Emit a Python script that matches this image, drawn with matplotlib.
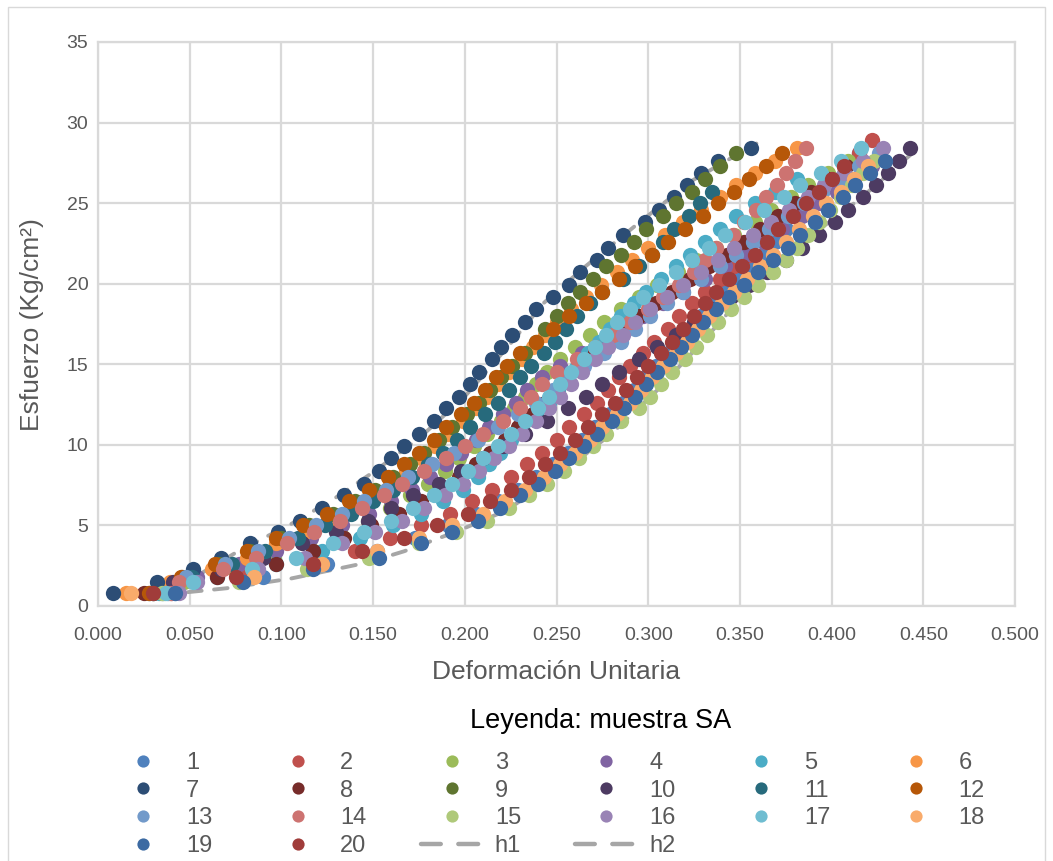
import matplotlib.pyplot as plt
from matplotlib.lines import Line2D
from matplotlib.patches import Rectangle

plt.rcParams['font.family'] = ['Liberation Sans', 'DejaVu Sans']

# esfuerzo (Kg/cm2) para cada lectura, dos escalas de carga
esf_a = [0.8, 1.5, 2.3, 3.0, 3.9, 4.6, 5.3, 6.1, 6.9, 7.6, 8.4, 9.2, 9.9, 10.7, 11.5, 12.3,
         13.0, 13.8, 14.5, 15.3, 16.1, 16.8, 17.6, 18.4, 19.2, 19.9, 20.7, 21.5, 22.2,
         23.0, 23.8, 24.6, 25.4, 26.1, 26.9, 27.6, 28.4]
esf_b = [0.8, 1.8, 2.6, 3.4, 4.2, 5.0, 5.7, 6.5, 7.2, 8.0, 8.8, 9.5, 10.3, 11.1, 11.9, 12.6,
         13.4, 14.2, 14.9, 15.7, 16.4, 17.2, 18.0, 18.8, 19.5, 20.3, 21.1, 21.8, 22.6,
         23.4, 24.2, 25.0, 25.7, 26.5, 27.3, 28.1, 28.9]

# deformacion unitaria de cada muestra
def1 = [0.028, 0.090, 0.125, 0.152, 0.173, 0.191, 0.206, 0.218, 0.229, 0.239, 0.248, 0.256,
        0.264, 0.271, 0.279, 0.286, 0.292, 0.298, 0.304, 0.311, 0.317, 0.323, 0.329, 0.335,
        0.341, 0.348, 0.355, 0.362, 0.369, 0.375, 0.382, 0.388, 0.395, 0.401, 0.408, 0.415]
def2 = [0.040, 0.080, 0.115, 0.140, 0.159, 0.176, 0.192, 0.204, 0.215, 0.225, 0.234, 0.242,
        0.250, 0.257, 0.265, 0.272, 0.278, 0.284, 0.290, 0.297, 0.303, 0.311, 0.317, 0.324,
        0.331, 0.339, 0.347, 0.355, 0.363, 0.370, 0.378, 0.385, 0.393, 0.399, 0.407, 0.415, 0.422]
def3 = [0.036, 0.047, 0.074, 0.096, 0.115, 0.132, 0.147, 0.159, 0.170, 0.180, 0.189, 0.197,
        0.205, 0.212, 0.220, 0.227, 0.233, 0.239, 0.245, 0.252, 0.260, 0.268, 0.276, 0.285,
        0.295, 0.305, 0.316, 0.326, 0.337, 0.347, 0.358, 0.367, 0.378, 0.387, 0.398, 0.409]
def4 = [0.038, 0.054, 0.077, 0.097, 0.116, 0.133, 0.148, 0.160, 0.171, 0.181, 0.190, 0.198,
        0.206, 0.213, 0.221, 0.228, 0.234, 0.242, 0.252, 0.264, 0.275, 0.286, 0.297, 0.308,
        0.319, 0.331, 0.342, 0.353, 0.363, 0.373, 0.384, 0.393, 0.403, 0.412, 0.422]
def5 = [0.033, 0.065, 0.097, 0.122, 0.143, 0.161, 0.176, 0.188, 0.199, 0.207, 0.213, 0.219,
        0.225, 0.231, 0.239, 0.246, 0.251, 0.256, 0.261, 0.267, 0.273, 0.279, 0.285, 0.292,
        0.299, 0.307, 0.315, 0.323, 0.331, 0.339, 0.348, 0.358, 0.369, 0.381]
def6 = [0.015, 0.039, 0.062, 0.081, 0.097, 0.113, 0.126, 0.138, 0.149, 0.159, 0.168, 0.176,
        0.184, 0.191, 0.199, 0.206, 0.212, 0.218, 0.224, 0.231, 0.237, 0.244, 0.250, 0.258,
        0.266, 0.274, 0.283, 0.291, 0.300, 0.309, 0.319, 0.329, 0.339, 0.348, 0.358, 0.369, 0.381]
def7 = [0.008, 0.032, 0.052, 0.067, 0.083, 0.098, 0.110, 0.122, 0.134, 0.145, 0.153, 0.160,
        0.167, 0.175, 0.183, 0.190, 0.197, 0.203, 0.208, 0.215, 0.220, 0.226, 0.233, 0.239,
        0.248, 0.257, 0.263, 0.272, 0.278, 0.286, 0.298, 0.306, 0.314, 0.321, 0.329, 0.338, 0.356]
def8 = [0.025, 0.065, 0.097, 0.117, 0.134, 0.149, 0.164, 0.176, 0.187, 0.197, 0.206, 0.214,
        0.222, 0.229, 0.237, 0.244, 0.250, 0.256, 0.262, 0.271, 0.279, 0.287, 0.295, 0.304,
        0.313, 0.323, 0.333, 0.343, 0.352, 0.361, 0.371, 0.380, 0.389, 0.398, 0.408]
def9 = [0.030, 0.046, 0.066, 0.083, 0.100, 0.115, 0.128, 0.140, 0.151, 0.161, 0.170, 0.178,
        0.186, 0.193, 0.201, 0.208, 0.214, 0.220, 0.226, 0.233, 0.239, 0.244, 0.250, 0.256,
        0.263, 0.270, 0.277, 0.285, 0.292, 0.299, 0.308, 0.315, 0.324, 0.331, 0.339, 0.348]
def10 = [0.030, 0.041, 0.067, 0.090, 0.111, 0.130, 0.147, 0.160, 0.172, 0.186, 0.198, 0.210,
         0.221, 0.233, 0.245, 0.256, 0.266, 0.275, 0.284, 0.295, 0.305, 0.315, 0.325, 0.335,
         0.345, 0.355, 0.365, 0.375, 0.384, 0.393, 0.402, 0.409, 0.417, 0.424, 0.431, 0.437, 0.443]
def11 = [0.035, 0.051, 0.073, 0.091, 0.109, 0.124, 0.138, 0.150, 0.161, 0.171, 0.180, 0.188,
         0.196, 0.203, 0.211, 0.218, 0.224, 0.230, 0.236, 0.243, 0.249, 0.255, 0.261, 0.268,
         0.275, 0.286, 0.295, 0.302, 0.308, 0.314, 0.322, 0.328, 0.335]
def12 = [0.028, 0.045, 0.064, 0.081, 0.097, 0.112, 0.125, 0.137, 0.148, 0.158, 0.167, 0.175,
         0.183, 0.190, 0.198, 0.205, 0.211, 0.217, 0.223, 0.230, 0.239, 0.248, 0.257, 0.266,
         0.275, 0.284, 0.293, 0.302, 0.311, 0.320, 0.330, 0.338, 0.347, 0.355, 0.364, 0.373]
def13 = [0.042, 0.048, 0.069, 0.087, 0.104, 0.119, 0.133, 0.145, 0.157, 0.169, 0.182, 0.194,
         0.207, 0.218, 0.229, 0.239, 0.248, 0.256, 0.265, 0.276, 0.285, 0.293, 0.301, 0.310,
         0.319, 0.329, 0.339, 0.348, 0.357, 0.366, 0.376, 0.385, 0.395, 0.405, 0.415, 0.426]
def14 = [0.040, 0.044, 0.068, 0.086, 0.103, 0.118, 0.132, 0.144, 0.156, 0.166, 0.178, 0.190,
         0.200, 0.210, 0.221, 0.230, 0.236, 0.242, 0.250, 0.261, 0.271, 0.281, 0.290, 0.300,
         0.308, 0.317, 0.325, 0.331, 0.337, 0.346, 0.352, 0.359, 0.364, 0.370, 0.375, 0.380, 0.386]
def15 = [0.035, 0.077, 0.114, 0.148, 0.175, 0.195, 0.212, 0.224, 0.235, 0.245, 0.254, 0.262,
         0.270, 0.277, 0.285, 0.295, 0.301, 0.307, 0.313, 0.320, 0.326, 0.332, 0.338, 0.345,
         0.352, 0.360, 0.368, 0.375, 0.381, 0.387, 0.393, 0.399, 0.405, 0.411, 0.417, 0.423]
def16 = [0.044, 0.054, 0.087, 0.113, 0.133, 0.151, 0.166, 0.178, 0.189, 0.199, 0.208, 0.216,
         0.224, 0.231, 0.239, 0.246, 0.252, 0.258, 0.264, 0.271, 0.278, 0.286, 0.293, 0.301,
         0.310, 0.319, 0.329, 0.338, 0.347, 0.357, 0.367, 0.377, 0.387, 0.396, 0.407, 0.417, 0.428]
def17 = [0.037, 0.052, 0.084, 0.108, 0.128, 0.145, 0.160, 0.172, 0.183, 0.193, 0.202, 0.210,
         0.218, 0.225, 0.233, 0.240, 0.246, 0.252, 0.258, 0.265, 0.271, 0.277, 0.283, 0.290,
         0.297, 0.306, 0.315, 0.324, 0.333, 0.342, 0.353, 0.363, 0.374, 0.383, 0.394, 0.405, 0.416]
def18 = [0.018, 0.085, 0.122, 0.152, 0.175, 0.193, 0.210, 0.222, 0.233, 0.243, 0.252, 0.260,
         0.268, 0.275, 0.283, 0.290, 0.296, 0.302, 0.308, 0.315, 0.321, 0.327, 0.333, 0.340,
         0.347, 0.354, 0.361, 0.368, 0.375, 0.382, 0.390, 0.397, 0.405, 0.412, 0.420]
def19 = [0.042, 0.079, 0.117, 0.153, 0.176, 0.193, 0.207, 0.219, 0.230, 0.240, 0.249, 0.257,
         0.265, 0.272, 0.280, 0.287, 0.293, 0.299, 0.305, 0.312, 0.318, 0.324, 0.330, 0.337,
         0.344, 0.352, 0.360, 0.368, 0.376, 0.383, 0.391, 0.398, 0.406, 0.413, 0.421, 0.429]
def20 = [0.030, 0.075, 0.117, 0.144, 0.167, 0.185, 0.202, 0.214, 0.225, 0.235, 0.244, 0.252,
         0.260, 0.267, 0.275, 0.282, 0.288, 0.294, 0.300, 0.307, 0.313, 0.319, 0.325, 0.331,
         0.337, 0.344, 0.351, 0.358, 0.365, 0.371, 0.379, 0.386, 0.393, 0.400, 0.407]

# curvas h1 y h2
h1_def = [0.030, 0.050, 0.075, 0.090, 0.104, 0.128, 0.150, 0.175, 0.200, 0.225, 0.243,
          0.265, 0.293, 0.324, 0.359]
h1_esf = [0.6, 1.6, 3.3, 4.2, 5.0, 6.6, 8.3, 10.4, 13.0, 16.3, 18.8, 21.0, 23.6, 26.4, 28.7]
h2_def = [0.035, 0.070, 0.105, 0.147, 0.167, 0.195, 0.222, 0.250, 0.280, 0.305, 0.328,
          0.346, 0.370, 0.390, 0.408, 0.422, 0.438, 0.444]
h2_esf = [0.7, 1.1, 1.7, 2.7, 3.4, 4.6, 5.9, 8.0, 10.7, 13.4, 16.2, 18.5, 21.2, 23.1, 24.6,
          25.9, 27.5, 28.1]

muestras = [str(i) for i in range(1, 21)]
deformaciones = [def1, def2, def3, def4, def5, def6, def7, def8, def9, def10,
                 def11, def12, def13, def14, def15, def16, def17, def18, def19, def20]
esfuerzos = [esf_b, esf_b, esf_a, esf_b, esf_b, esf_a, esf_a, esf_b, esf_b, esf_a,
             esf_b, esf_b, esf_b, esf_a, esf_a, esf_a, esf_a, esf_b, esf_a, esf_b]
colores = ['#4F81BD', '#C0504D', '#9BBB59', '#8064A2', '#4BACC6', '#F79646',
           '#2C4D75', '#772C2A', '#5F7530', '#4D3B62', '#276A7C', '#B65708',
           '#729ACA', '#CD7371', '#AFC97A', '#9983B5', '#6FBDD1', '#F9AB6B',
           '#3C6AA2', '#A03C3A']

gris_txt = '#595959'
gris_grid = '#D9D9D9'
gris_h = '#A6A6A6'

fig = plt.figure(figsize=(10.53, 8.61), dpi=100)
ax = fig.add_axes([98 / 1053, 1 - 606 / 861, 917 / 1053, 564 / 861])

# lineas h1 / h2 por debajo de los puntos
for dx, dy, nom in [(h1_def, h1_esf, 'h1'), (h2_def, h2_esf, 'h2')]:
    ax.plot(dx, dy, color=gris_h, lw=2.8, ls=(0, (3.5, 3.2)),
            dash_capstyle='round', zorder=2, label=nom)

puntos = []
for i, (dx, dy, c, nom) in enumerate(zip(deformaciones, esfuerzos, colores, muestras)):
    p, = ax.plot(dx, dy[:len(dx)], 'o', ls='none', ms=11, color=c, mew=0,
                 label=nom, zorder=3 + i * 0.01, clip_on=False)
    puntos.append(p)

ax.set_xlim(0, 0.5)
ax.set_ylim(0, 35)
ax.set_xticks([i * 0.05 for i in range(11)])
ax.set_yticks(range(0, 36, 5))
ax.set_xticklabels([f'{i * 0.05:.3f}' for i in range(11)])
ax.tick_params(length=0, labelsize=14, labelcolor=gris_txt)
ax.tick_params(axis='x', pad=15)
ax.tick_params(axis='y', pad=7)
ax.grid(True, color=gris_grid, lw=1.6, zorder=0)
ax.set_axisbelow(True)
for s in ax.spines.values():
    s.set_color(gris_grid)
    s.set_linewidth(1.6)

fig.text(32 / 1053, 1 - 325 / 861, 'Esfuerzo (Kg/cm²)', rotation=90, ha='center',
         va='center', fontsize=19, color=gris_txt)
fig.text(556 / 1053, 1 - 672 / 861, 'Deformación Unitaria', ha='center', va='center',
         fontsize=19, color=gris_txt)
fig.text(601 / 1053, 1 - 721 / 861, 'Leyenda: muestra SA', ha='center', va='center',
         fontsize=19.5, color='black')

# leyenda en 6 columnas, leida por filas
h_lin = [Line2D([], [], color=gris_h, lw=3.2, ls=(0, (4.45, 3.95)),
                dash_capstyle='round', label=n) for n in ('h1', 'h2')]
h = puntos + h_lin
orden = [0, 6, 12, 18, 1, 7, 13, 19, 2, 8, 14, 20, 3, 9, 15, 21, 4, 10, 16, 5, 11, 17]
leg = ax.legend([h[k] for k in orden], [h[k].get_label() for k in orden],
                ncol=6, loc='upper left', bbox_to_anchor=(112 / 1053, 1 - 752 / 861),
                bbox_transform=fig.transFigure, frameon=False, fontsize=17,
                labelcolor=gris_txt, handlelength=2.63, handletextpad=0.5,
                columnspacing=2.3, labelspacing=0.24, borderpad=0, borderaxespad=0,
                markerscale=0.8)

# borde del area del grafico
fig.patches.append(Rectangle((8 / 1053, -0.01), 1037 / 1053, 1.01 - 7 / 861,
                             transform=fig.transFigure, fill=False,
                             edgecolor=gris_grid, lw=1))

fig.savefig('out.png', dpi=100)
